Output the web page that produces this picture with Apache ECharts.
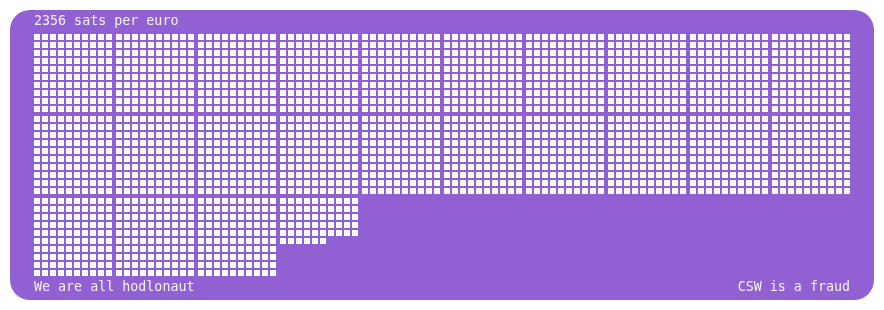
<!DOCTYPE html>
<html>
<head>
<meta charset="utf-8">
<script src="https://cdn.jsdelivr.net/npm/echarts@6/dist/echarts.min.js"></script>
<style>html,body{margin:0;padding:0;background:#fff}#c{width:884px;height:310px}</style>
</head>
<body>
<div id="c"></div>
<script>
// Data
const satsPerEuro = 2356;
const titleText = ['2356 sats per euro'];
const footerLeft = ['We are all hodlonaut'];
const footerRight = ['CSW is a fraud'];

// Layout constants (grid of 10x10 blocks, 10 blocks per row)
const perRow = 10, blocksPerRow = 10, pitch = 8, blockPitch = 82, sq = 6;

const points = [];
for (let i = 0; i < satsPerEuro; i++) {
  const block = Math.floor(i / 100);
  const within = i % 100;
  const bx = block % blocksPerRow, by = Math.floor(block / blocksPerRow);
  const cx = within % perRow, cy = Math.floor(within / perRow);
  points.push([bx * blockPitch + cx * pitch + sq / 2, by * blockPitch + cy * pitch + sq / 2]);
}

const chart = echarts.init(document.getElementById('c'), null, {renderer: 'canvas'});
const purple = '#9161d3';
const font = '"DejaVu Sans Mono", monospace';
chart.setOption({
  backgroundColor: '#ffffff',
  animation: false,
  graphic: [
    {type: 'rect', z: -10, shape: {x: 10, y: 10, width: 864, height: 290, r: 20}, style: {fill: purple}},
    {type: 'text', z: 10, left: 34, top: 15, style: {text: titleText[0], fill: '#f2f2f2', font: '13.33px ' + font}},
    {type: 'text', z: 10, left: 34, top: 281, style: {text: footerLeft[0], fill: '#f2f2f2', font: '13.33px ' + font}},
    {type: 'text', z: 10, right: 34, top: 281, style: {text: footerRight[0], fill: '#f2f2f2', font: '13.33px ' + font}}
  ],
  grid: {left: 34, top: 34, width: 816, height: 242},
  xAxis: {type: 'value', min: 0, max: 816, show: false},
  yAxis: {type: 'value', min: 0, max: 242, inverse: true, show: false},
  series: [{
    type: 'scatter',
    symbol: 'rect',
    symbolSize: sq,
    itemStyle: {color: '#ffffff', opacity: 1},
    data: points,
    large: false,
    silent: true
  }]
});
</script>
</body>
</html>
